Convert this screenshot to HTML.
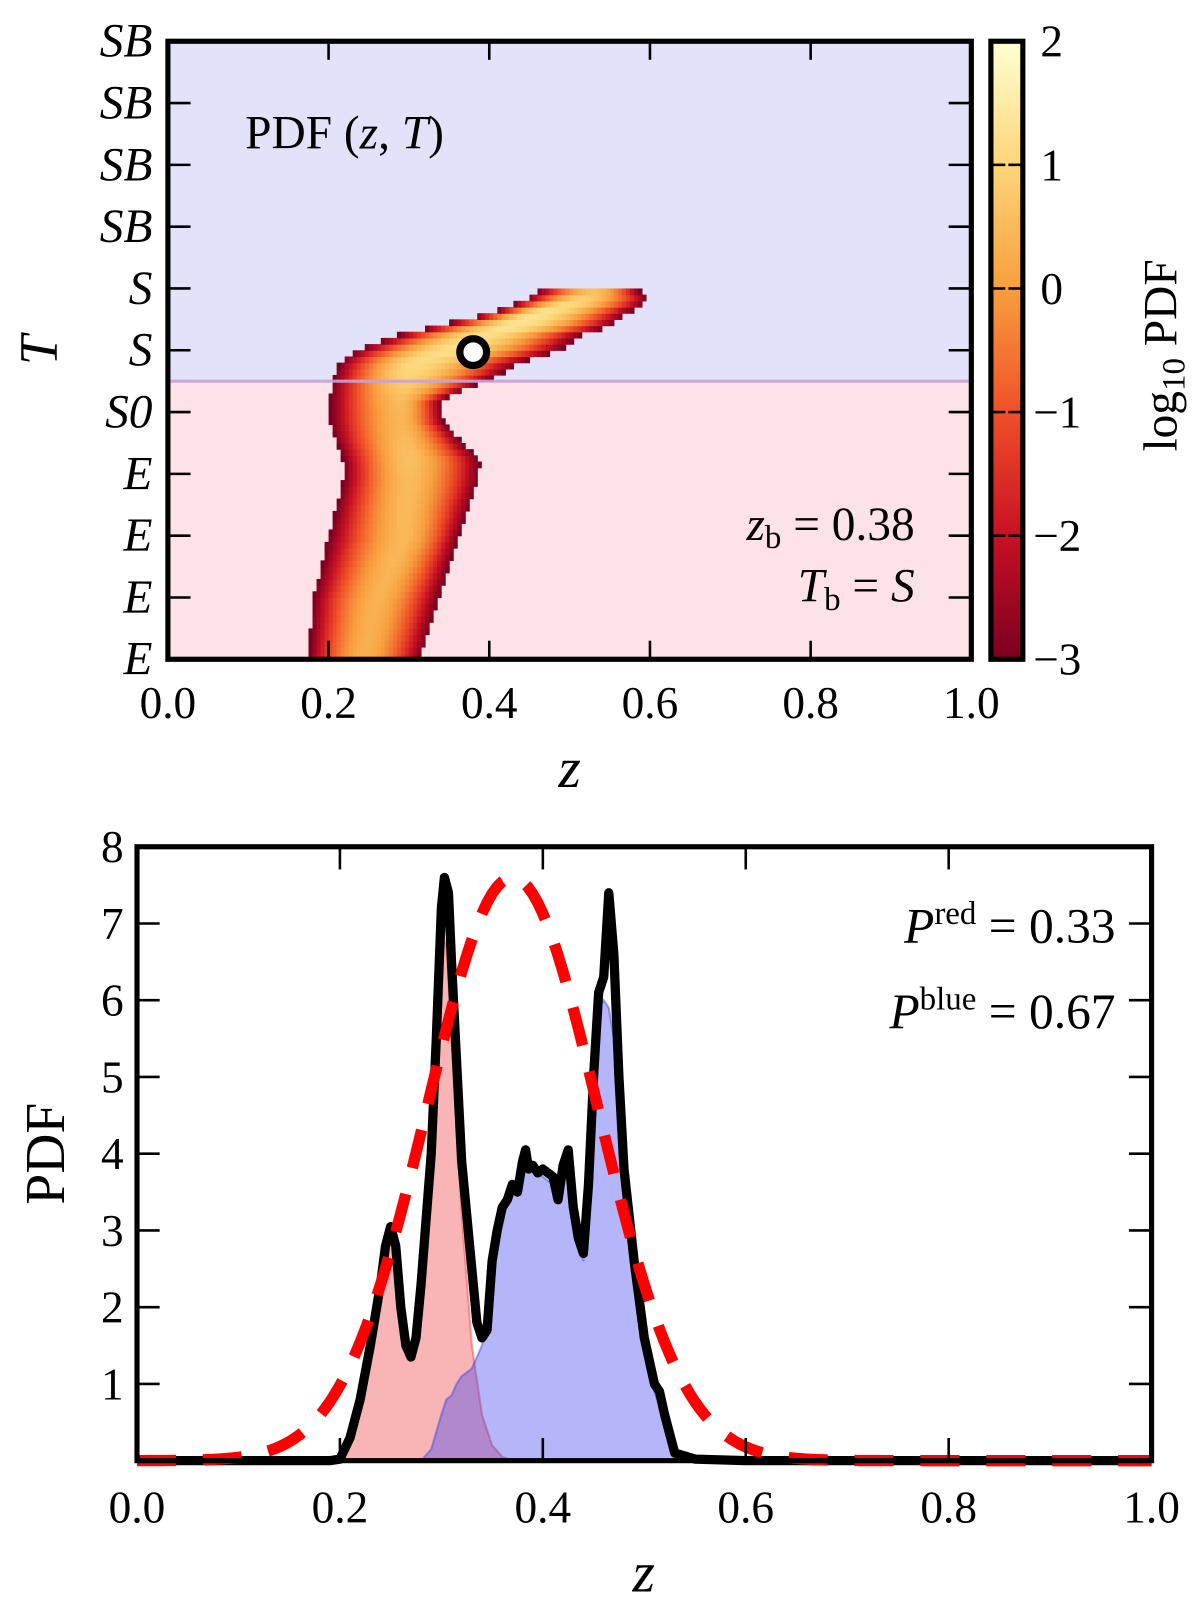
<!DOCTYPE html>
<html><head><meta charset="utf-8">
<style>
html,body{margin:0;padding:0;background:#fff;}
svg{display:block;}
text{font-family:"Liberation Serif",serif;fill:#000;}
.it{font-style:italic;}
</style></head>
<body>
<svg id="fig" width="1200" height="1608" viewBox="0 0 1165 1561" xmlns="http://www.w3.org/2000/svg">
  <g id="topPanel"></g>
  <g id="cbar"></g>
  <g id="bot"></g>
</svg>
<script>
// ---------- top panel data ----------
const typeLabels = ["E","E","E","E","S0","S","S","SB","SB","SB","SB"];
const zTicks = [0.0,0.2,0.4,0.6,0.8,1.0];
const cbTicks = [2,1,0,-1,-2,-3];
// band knots: T level, low z edge, high z edge, centre z, peak log10 PDF
const bandT    = [0.0, 0.95, 1.93, 2.9, 3.22, 3.54, 3.87, 4.19, 4.43, 4.6, 4.81, 5.0, 5.24, 5.4, 5.6, 5.81, 5.94];
const bandLo   = [0.175,0.18,0.199,0.218,0.218,0.208,0.202,0.202,0.204,0.208,0.214,0.234,0.283,0.335,0.40,0.442,0.46];
const bandHi   = [0.314,0.335,0.36,0.386,0.388,0.364,0.342,0.339,0.38,0.413,0.438,0.488,0.513,0.552,0.572,0.60,0.588];
const bandC    = [0.243,0.26,0.293,0.30,0.30,0.295,0.29,0.29,0.295,0.30,0.31,0.35,0.39,0.43,0.46,0.51,0.53];
const bandPeak = [0.3,0.35,0.45,0.5,0.6,0.5,0.4,0.5,0.8,1.0,1.1,1.2,1.2,1.3,1.3,1.0,0.6];
const bestZ = 0.38, bestT = 4.97, splitT = 4.5;

// ---------- bottom panel data ----------
const totZ = [0.0,0.19,0.20,0.21,0.22,0.23,0.24,0.245,0.25,0.255,0.26,0.265,0.27,0.275,0.28,0.29,0.295,0.30,0.303,0.307,0.31,0.315,0.32,0.33,0.335,0.34,0.345,0.35,0.355,0.36,0.365,0.37,0.375,0.38,0.383,0.386,0.39,0.395,0.40,0.41,0.415,0.42,0.425,0.43,0.435,0.44,0.445,0.45,0.455,0.46,0.465,0.47,0.475,0.48,0.49,0.50,0.51,0.515,0.52,0.53,0.55,0.60,1.0];
const totP = [0,0,0.02,0.3,0.8,1.5,2.3,2.8,3.05,2.8,2.0,1.5,1.35,1.6,2.3,4.0,5.5,7.2,7.6,7.4,6.5,5.2,3.9,2.5,1.8,1.6,1.7,2.6,3.0,3.3,3.4,3.6,3.5,3.9,4.05,3.8,3.85,3.75,3.8,3.7,3.4,3.85,4.05,3.3,2.9,2.7,3.6,5.0,6.1,6.3,7.4,6.6,5.0,3.8,2.6,1.6,1.0,0.9,0.6,0.1,0.02,0,0];
const redZ = [0.20,0.21,0.22,0.23,0.24,0.25,0.26,0.27,0.28,0.29,0.30,0.305,0.31,0.32,0.33,0.34,0.35,0.36,0.37];
const redP = [0,0.3,0.8,1.5,2.3,3.0,2.0,1.3,2.1,3.9,6.9,6.7,5.5,3.2,1.5,0.6,0.2,0.05,0];
const bluZ = [0.28,0.29,0.30,0.305,0.31,0.315,0.32,0.33,0.34,0.345,0.35,0.36,0.37,0.38,0.39,0.40,0.41,0.42,0.425,0.43,0.44,0.445,0.45,0.455,0.46,0.465,0.47,0.475,0.48,0.49,0.50,0.51,0.52,0.53];
const bluP = [0,0.15,0.6,0.8,0.85,1.0,1.1,1.2,1.5,1.8,2.6,3.2,3.5,3.8,3.8,3.7,3.6,3.7,3.9,3.3,2.6,3.5,4.9,5.9,6.0,5.9,5.5,4.8,3.7,2.5,1.5,0.9,0.5,0];
const gaussMu = 0.37, gaussSigma = 0.084, gaussAmp = 7.6;
const pdfTicks = [1,2,3,4,5,6,7,8];
const pRed = "0.33", pBlue = "0.67";

const NS = "http://www.w3.org/2000/svg";
function mk(tag, attrs, parent){const e=document.createElementNS(NS,tag);for(const k in attrs)e.setAttribute(k,attrs[k]);parent.appendChild(e);return e;}
function interp(xs, ys, x){if(x<=xs[0])return ys[0];for(let i=1;i<xs.length;i++){if(x<=xs[i]){const f=(x-xs[i-1])/(xs[i]-xs[i-1]);return ys[i-1]+f*(ys[i]-ys[i-1]);}}return ys[ys.length-1];}

// ===== top panel =====
const topG = document.getElementById('topPanel');
const TX0=163, TX1=943, TY0=40, TY1=640;
const xT = z => TX0 + (TX1-TX0)*z;
const yT = t => TY1 - 60*t;
let bgB = mk('rect',{x:TX0,y:TY0,width:TX1-TX0,height:yT(splitT)-TY0,fill:'#e2e2fb'},topG);


let bgR = mk('rect',{x:TX0,y:yT(splitT),width:TX1-TX0,height:TY1-yT(splitT),fill:'#fde2e7'},topG);



const cmapStops=[[-3,[122,0,32]],[-2,[200,16,36]],[-1,[240,80,40]],[0,[248,158,62]],[1,[252,214,120]],[2,[255,255,210]]];
function cmap(v){v=Math.max(-3,Math.min(2,v));for(let i=1;i<cmapStops.length;i++){if(v<=cmapStops[i][0]){const a=cmapStops[i-1],b=cmapStops[i];const f=(v-a[0])/(b[0]-a[0]);const c=a[1].map((q,j)=>Math.round(q+f*(b[1][j]-q)));return `rgb(${c.join(',')})`;}}return 'rgb(255,255,210)';}

const heat = mk('g',{},topG);


const dT=0.1, dZ=0.005;
const tMax = bandT[bandT.length-1];
for(let t=0;t<tMax;t+=dT){
  const tm=t+dT/2;
  const lo=interp(bandT,bandLo,tm), hi=interp(bandT,bandHi,tm), c=interp(bandT,bandC,tm), pk=interp(bandT,bandPeak,tm);
  for(let z=Math.floor(lo/dZ)*dZ; z<hi; z+=dZ){
    const zm=z+dZ/2; if(zm<lo||zm>hi) continue;
    const half = zm<c ? (c-lo) : (hi-c);
    const r=Math.abs(zm-c)/Math.max(half,1e-3);
    const v=pk-(pk+3.1)*Math.pow(r,1.8);
    const cell=mk('rect',{x:xT(z).toFixed(2),y:yT(t+dT).toFixed(2),width:(xT(dZ)-TX0+0.6).toFixed(2),height:6.6,fill:cmap(v)},heat);
    
    
  }
}
let sl = mk('line',{x1:TX0,x2:TX1,y1:yT(splitT),y2:yT(splitT),stroke:'#c9a3d6','stroke-width':3,opacity:0.9},topG);


let bm = mk('circle',{cx:xT(bestZ),cy:yT(bestT),r:13,fill:'#fff',stroke:'#000','stroke-width':7},topG);


zTicks.forEach(z=>{
  mk('line',{x1:xT(z),x2:xT(z),y1:TY1,y2:TY1-18,stroke:'#000','stroke-width':2.5},topG);
  mk('line',{x1:xT(z),x2:xT(z),y1:TY0,y2:TY0+18,stroke:'#000','stroke-width':2.5},topG);
  const tl=mk('text',{x:xT(z),y:697,'font-size':44,'text-anchor':'middle'},topG);tl.textContent=z.toFixed(1);
  
  
});
typeLabels.forEach((lab,i)=>{
  mk('line',{x1:TX0,x2:TX0+22,y1:yT(i),y2:yT(i),stroke:'#000','stroke-width':2.5},topG);
  mk('line',{x1:TX1,x2:TX1-22,y1:yT(i),y2:yT(i),stroke:'#000','stroke-width':2.5},topG);
  const tl=mk('text',{x:148,y:yT(i)+15,'font-size':46,'text-anchor':'end',class:'it'},topG);tl.textContent=lab;
  
  
});
let fr = mk('rect',{x:TX0,y:TY0,width:TX1-TX0,height:TY1-TY0,fill:'none',stroke:'#000','stroke-width':5},topG);


let tt=mk('text',{x:238,y:144,'font-size':46},topG);
tt.innerHTML='PDF (<tspan class="it">z</tspan>, <tspan class="it">T</tspan>)';


let zb=mk('text',{x:888,y:524,'font-size':46,'text-anchor':'end'},topG);
zb.innerHTML='<tspan class="it">z</tspan><tspan font-size="32" dy="8">b</tspan><tspan dy="-8"> = 0.38</tspan>';


let tb=mk('text',{x:888,y:584,'font-size':46,'text-anchor':'end'},topG);
tb.innerHTML='<tspan class="it">T</tspan><tspan font-size="32" dy="8">b</tspan><tspan dy="-8"> = </tspan><tspan class="it">S</tspan>';


let xl=mk('text',{x:553,y:764,'font-size':56,'text-anchor':'middle',class:'it'},topG);xl.textContent='z';


let yl=mk('text',{x:0,y:0,'font-size':52,'text-anchor':'middle',class:'it',transform:'translate(55,340) rotate(-90)'},topG);yl.textContent='T';



// ===== colorbar =====
const cb=document.getElementById('cbar');
const CX0=962, CX1=993;
const yC = v => TY0 + (2-v)*120;
const defs=mk('defs',{},cb);
const lg=mk('linearGradient',{id:'cg',x1:0,y1:0,x2:0,y2:1},defs);
for(let k=0;k<=20;k++){const v=2-5*k/20;mk('stop',{offset:(k/20),'stop-color':cmap(v)},lg);}
let cr=mk('rect',{x:CX0,y:TY0,width:CX1-CX0,height:600,fill:'url(#cg)',stroke:'#000','stroke-width':5},cb);


cbTicks.forEach(v=>{
  mk('line',{x1:CX0+2,x2:CX0+14,y1:yC(v),y2:yC(v),stroke:'#000','stroke-width':2.5},cb);
  mk('line',{x1:CX1-2,x2:CX1-14,y1:yC(v),y2:yC(v),stroke:'#000','stroke-width':2.5},cb);
  const tl=mk('text',{x:v<0?1003:1010,y:yC(v)+15,'font-size':44},cb);tl.textContent=v<0?'\u2212'+(-v):String(v);
  
  
});
let cl=mk('text',{x:0,y:0,'font-size':46,'text-anchor':'middle',transform:'translate(1142,345) rotate(-90)'},cb);
cl.innerHTML='log<tspan font-size="32" dy="8">10</tspan><tspan dy="-8"> PDF</tspan>';



// ===== bottom panel =====
const bot=document.getElementById('bot');
const BX0=133, BX1=1118, BY0=822, BY1=1418;
const xB = z => BX0+(BX1-BX0)*z;
const yB = p => BY1-(BY1-BY0)*p/8;
function areaPath(zs,ps){let d=`M${xB(zs[0])},${yB(0)}`;zs.forEach((z,i)=>{d+=` L${xB(z).toFixed(2)},${yB(ps[i]).toFixed(2)}`;});d+=` L${xB(zs[zs.length-1])},${yB(0)} Z`;return d;}
function linePath(zs,ps){return zs.map((z,i)=>(i?'L':'M')+xB(z).toFixed(2)+','+yB(ps[i]).toFixed(2)).join(' ');}
let ra=mk('path',{d:areaPath(redZ,redP),fill:'rgba(240,70,70,0.4)',stroke:'rgba(240,70,70,0.5)','stroke-width':2},bot);


let ba=mk('path',{d:areaPath(bluZ,bluP),fill:'rgba(70,70,240,0.4)',stroke:'rgba(70,70,240,0.5)','stroke-width':2},bot);


let tline=mk('path',{d:linePath(totZ,totP),fill:'none',stroke:'#000','stroke-width':9,'stroke-linejoin':'round'},bot);


const gz=[],gp=[];for(let k=0;k<=200;k++){const z=k/200;gz.push(z);gp.push(gaussAmp*Math.exp(-0.5*((z-gaussMu)/gaussSigma)**2));}
let gl=mk('path',{d:linePath(gz,gp),fill:'none',stroke:'#ff0000','stroke-width':11,'stroke-dasharray':'38 26'},bot);


zTicks.forEach(z=>{
  mk('line',{x1:xB(z),x2:xB(z),y1:BY1,y2:BY1-22,stroke:'#000','stroke-width':2.5},bot);
  mk('line',{x1:xB(z),x2:xB(z),y1:BY0,y2:BY0+22,stroke:'#000','stroke-width':2.5},bot);
  const t=mk('text',{x:xB(z),y:1478,'font-size':44,'text-anchor':'middle'},bot);t.textContent=z.toFixed(1);
  
  
});
pdfTicks.forEach(p=>{
  mk('line',{x1:BX0,x2:BX0+22,y1:yB(p),y2:yB(p),stroke:'#000','stroke-width':2.5},bot);
  mk('line',{x1:BX1,x2:BX1-22,y1:yB(p),y2:yB(p),stroke:'#000','stroke-width':2.5},bot);
  const t=mk('text',{x:120,y:yB(p)+15,'font-size':44,'text-anchor':'end'},bot);t.textContent=String(p);
  
  
});
let bf=mk('rect',{x:BX0,y:BY0,width:BX1-BX0,height:BY1-BY0,fill:'none',stroke:'#000','stroke-width':5},bot);


let pr=mk('text',{x:1083,y:915,'font-size':48,'text-anchor':'end'},bot);
pr.innerHTML='<tspan class="it">P</tspan><tspan font-size="32" dy="-18">red</tspan><tspan dy="18"> = '+pRed+'</tspan>';


let pb=mk('text',{x:1083,y:998,'font-size':48,'text-anchor':'end'},bot);
pb.innerHTML='<tspan class="it">P</tspan><tspan font-size="32" dy="-18">blue</tspan><tspan dy="18"> = '+pBlue+'</tspan>';


let bxl=mk('text',{x:625,y:1545,'font-size':56,'text-anchor':'middle',class:'it'},bot);bxl.textContent='z';


let byl=mk('text',{x:0,y:0,'font-size':54,'text-anchor':'middle',transform:'translate(62,1120) rotate(-90)'},bot);byl.textContent='PDF';


</script>
</body></html>
